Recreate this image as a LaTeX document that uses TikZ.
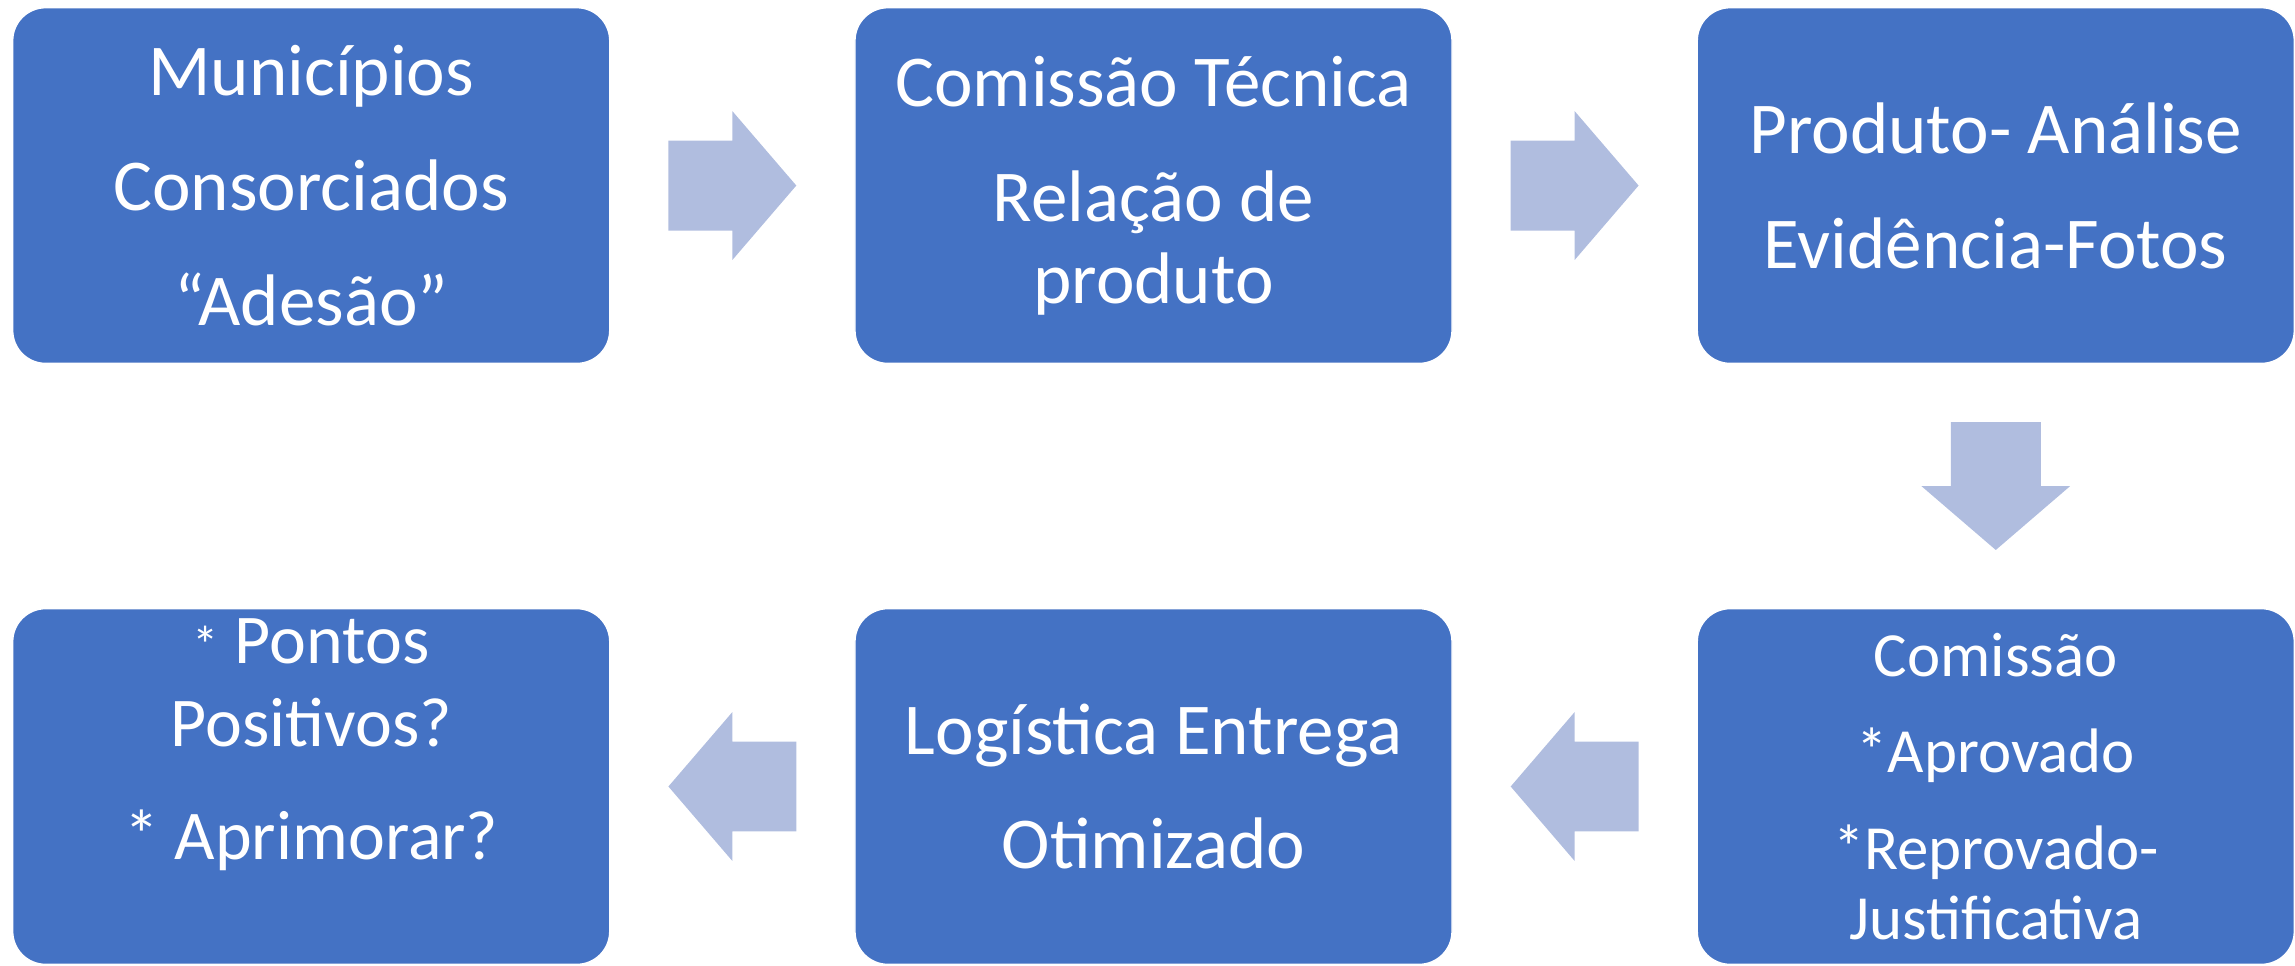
\documentclass[tikz,border=0pt]{standalone}
\usepackage{fontspec}
\setmainfont{Carlito}
\usetikzlibrary{positioning,calc}
\definecolor{boxblue}{RGB}{68,114,196}
\definecolor{arrowblue}{RGB}{176,189,223}

\begin{document}
\begin{tikzpicture}[
    node distance=2.44cm,
    every node/.style={align=center, text=white},
    box/.style={rectangle, draw=white, line width=0.4pt, rounded corners=0.33cm, fill=boxblue,
                minimum width=5.975cm, minimum height=3.56cm, inner sep=0pt,
                font=\fontsize{20.8}{23.3}\selectfont},
    smallbox/.style={box, font=\fontsize{17.9}{19.9}\selectfont},
    midbox/.style={box, font=\fontsize{19.9}{23.6}\selectfont},
    blockarrow/.pic={\fill[arrowblue] (-0.64,-0.45) -- (0,-0.45) -- (0,-0.745) -- (0.64,0)
        -- (0,0.745) -- (0,0.45) -- (-0.64,0.45) -- cycle;}
]

\node[box] (m1) {Municípios\\[0.33cm] Consorciados\\[0.33cm] “Adesão”};
\node[box, right=of m1] (m2) {Comissão Técnica\\[0.33cm] Relação de\\ produto};
\node[box, right=of m2] (m3) {Produto- Análise\\[0.33cm] Evidência-Fotos};
\node[smallbox, below=of m3] (m4) {Comissão\\[0.27cm] *Aprovado\\[0.27cm] *Reprovado-\\ Justificativa};
\node[box, left=of m4] (m5) {Logística Entrega\\[0.33cm] Otimizado};
\node[midbox, left=of m5] (m6) {{\fontsize{15}{15}\selectfont *} Pontos\\ Positivos?\\[0.3cm] * Aprimorar?\\[0.12cm]\mbox{}};

\useasboundingbox ([xshift=-0.12cm,yshift=0.07cm]m1.north west) rectangle ++(22.95,-9.63);

\pic at ($(m1.east)!0.5!(m2.west)$) {blockarrow};
\pic at ($(m2.east)!0.5!(m3.west)$) {blockarrow};
\pic[rotate=-90] at ($(m3.south)!0.5!(m4.north)$) {blockarrow};
\pic[rotate=180] at ($(m4.west)!0.5!(m5.east)$) {blockarrow};
\pic[rotate=180] at ($(m5.west)!0.5!(m6.east)$) {blockarrow};

\end{tikzpicture}
\end{document}
